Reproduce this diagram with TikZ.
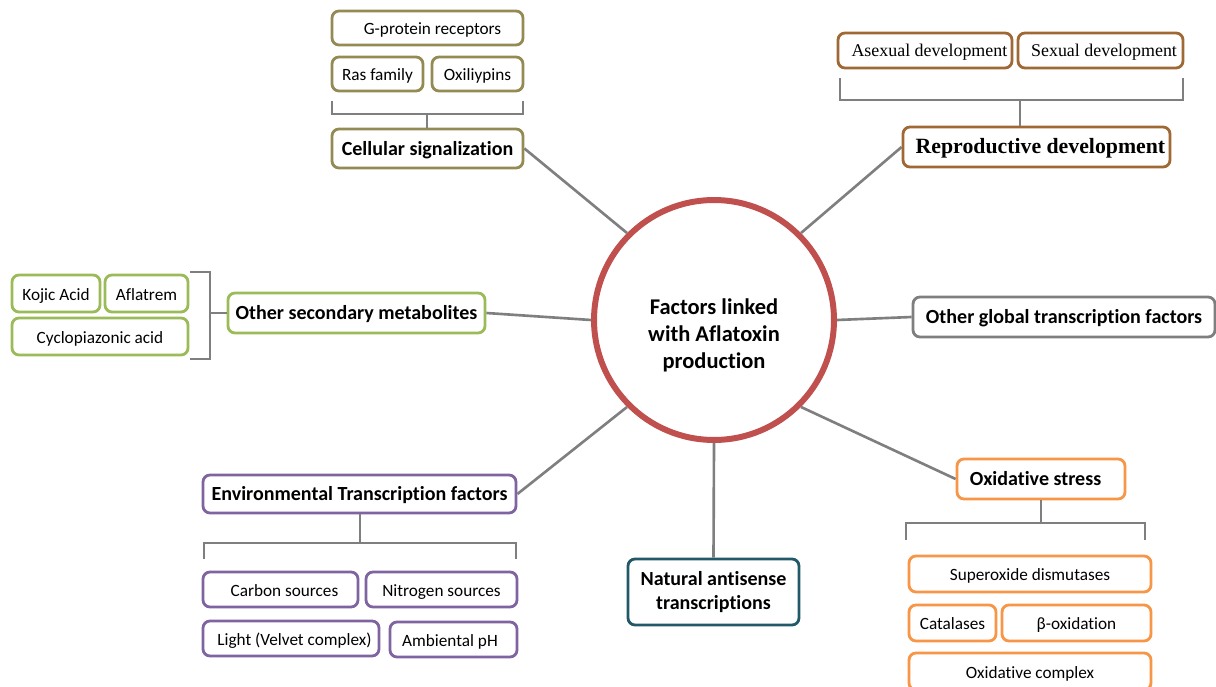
\documentclass[tikz,border=0pt]{standalone}
\usepackage{fontspec}
\setmainfont{Carlito}[Ligatures={NoCommon}]
\newfontfamily\serifont{Liberation Serif}
\definecolor{cOlive}{RGB}{148,138,84}
\definecolor{cBrown}{RGB}{160,104,52}
\definecolor{cGreen}{RGB}{155,187,89}
\definecolor{cGray}{RGB}{127,127,127}
\definecolor{cPurple}{RGB}{128,100,162}
\definecolor{cTeal}{RGB}{33,89,104}
\definecolor{cOrange}{RGB}{247,150,70}
\definecolor{cRed}{RGB}{192,80,77}
\tikzset{
  bx/.style={draw=#1, line width=1.6pt, rounded corners=0.14cm, fill=white, inner sep=0pt, align=center, text=black},
  line1/.style={text height=0.74em, text depth=0pt},
  mainbx/.style={bx=#1, line1, font=\bfseries\fontsize{11.4}{13.5}\selectfont},
  subbx/.style={bx=#1, line1, font=\fontsize{9.8}{11}\selectfont},
  serbx/.style={bx=#1, line1, font=\serifont\fontsize{10.2}{12}\selectfont},
  conn/.style={draw=cGray, line width=1.5pt},
  brk/.style={draw=cGray, line width=1.3pt}
}
\newcommand\pbox[7]{\node[#2, minimum width={(#5-#3)*0.02cm}, minimum height={(#6-#4)*0.02cm}] (#1) at ({(#3+#5)/2},{(#4+#6)/2}) {#7};}
\begin{document}
\begin{tikzpicture}[x=0.02cm, y=-0.02cm]
\useasboundingbox (0,0) rectangle (1216,686);
\clip (0,0) rectangle (1216,686);
% center
\node[circle, draw=cRed, line width=3.4pt, minimum size=4.8cm, inner sep=0pt] (c) at (714,320) {};
\node[font=\bfseries\fontsize{12.8}{15.3}\selectfont, align=center] (ct) at (714,335) {Factors linked\\with Aflatoxin\\production};
% cellular signalization
\pbox{gpr}{subbx=cOlive}{332}{11}{523}{45}{\hspace*{5.7pt}G-protein receptors}
\pbox{ras}{subbx=cOlive}{332}{57}{423}{91}{Ras family}
\pbox{oxi}{subbx=cOlive}{432}{57}{523}{91}{Oxiliypins}
\pbox{cell}{mainbx=cOlive}{332}{129}{523}{168}{Cellular signalization}
\coordinate (cellb) at (427,114);
\draw[brk] (332,101) -- (332,114) -- (523,114) -- (523,101);
\draw[brk] (cell.north -| cellb) -- (cellb);
% reproductive
\pbox{asx}{serbx=cBrown}{838}{33}{1012}{68}{\hspace*{5pt}Asexual development}
\pbox{sex}{serbx=cBrown}{1018}{33}{1183}{68}{\hspace*{4pt}Sexual development}
\pbox{rep}{bx=cBrown, line1, font=\serifont\bfseries\fontsize{12.4}{14}\selectfont}{903}{127}{1170}{167}{\hspace*{4.5pt}Reproductive development}
\coordinate (repb) at (1020,100);
\draw[brk] (840,78) -- (840,100) -- (1183,100) -- (1183,78);
\draw[brk] (rep.north -| repb) -- (repb);
% other secondary metabolites
\pbox{koj}{subbx=cGreen}{12}{275}{100}{312}{Kojic Acid}
\pbox{afl}{subbx=cGreen}{105}{275}{188}{312}{Aflatrem}
\pbox{cyc}{subbx=cGreen}{12}{318}{188}{355}{Cyclopiazonic acid}
\pbox{sec}{mainbx=cGreen}{228}{293}{485}{333}{Other secondary metabolites}
\coordinate (secb) at (210,313);
\draw[brk] (190,272) -- (210,272) -- (210,359) -- (190,359);
\draw[brk] (sec.west) -- (secb);
% other global
\pbox{glob}{mainbx=cGray}{913}{297}{1215}{337}{Other global transcription factors}
% environmental
\pbox{env}{mainbx=cPurple}{203}{475}{516}{513}{Environmental Transcription factors}
\pbox{carb}{subbx=cPurple}{203}{572}{358}{607}{\hspace*{4.5pt}Carbon sources}
\pbox{nitr}{subbx=cPurple}{366}{572}{517}{607}{Nitrogen sources}
\pbox{light}{subbx=cPurple}{203}{621}{379}{656}{\hspace*{4pt}Light (Velvet complex)}
\pbox{ph}{subbx=cPurple}{390}{622}{517}{657}{Ambiental pH\hspace*{4pt}}
\coordinate (envb) at (360,543);
\draw[brk] (204,559) -- (204,543) -- (516,543) -- (516,559);
\draw[brk] (env.south -| envb) -- (envb);
% natural antisense
\pbox{nat}{bx=cTeal, font=\bfseries\fontsize{11.4}{13.6}\selectfont}{628}{559}{799}{625}{\raisebox{-2pt}{Natural antisense}\\\raisebox{-2pt}{transcriptions}}
% oxidative stress
\pbox{ox}{mainbx=cOrange}{957}{459}{1125}{499}{Oxidative stress\hspace*{6.2pt}}
\pbox{sod}{subbx=cOrange}{909}{556}{1151}{592}{Superoxide dismutases}
\pbox{cat}{subbx=cOrange}{909}{605}{996}{641}{Catalases}
\pbox{beta}{subbx=cOrange}{1002}{605}{1151}{641}{β-oxidation}
\pbox{oxc}{subbx=cOrange}{909}{653}{1151}{690}{Oxidative complex}
\coordinate (oxb) at (1041,523);
\draw[brk] (906,540) -- (906,523) -- (1145,523) -- (1145,540);
\draw[brk] (ox.south -| oxb) -- (oxb);
% connectors
\draw[conn] (c.135) -- (cell.east);
\draw[conn] (c.45) -- (rep.west);
\draw[conn] (c.180) -- (sec.east);
\draw[conn] (c.0) -- (glob.west);
\draw[conn] (c.-135) -- (env.east);
\draw[conn] (c.-90) -- (nat.north);
\draw[conn] (c.-45) -- (ox.west);
\end{tikzpicture}
\end{document}
